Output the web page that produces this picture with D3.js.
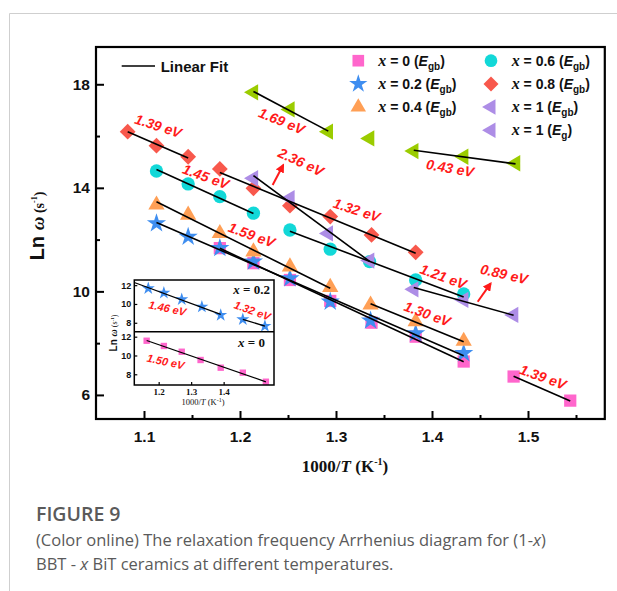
<!DOCTYPE html>
<html>
<head>
<meta charset="utf-8">
<script src="https://cdn.jsdelivr.net/npm/d3@7"></script>
<style>
  html, body { margin: 0; padding: 0; background: #fff; }
  svg { display: block; }
</style>
</head>
<body>
<script>
// ---- Main plot data: 1000/T (K^-1) and ln(omega) per composition ----
const xX0  = [1.179, 1.214, 1.252, 1.294, 1.337, 1.383, 1.433, 1.485, 1.544];
const yX0  = [11.67, 11.09, 10.44, 9.63, 8.79, 8.25, 7.29, 6.71, 5.78];
const xX02 = [1.113, 1.146, 1.179, 1.214, 1.252, 1.294, 1.336, 1.383, 1.433];
const yX02 = [12.63, 12.11, 11.67, 11.15, 10.50, 9.60, 8.87, 8.38, 7.61];
const xX04 = [1.113, 1.146, 1.179, 1.214, 1.252, 1.294, 1.336, 1.383, 1.433];
const yX04 = [13.34, 12.95, 12.24, 11.53, 10.95, 10.16, 9.48, 8.83, 8.08];
const xX06 = [1.113, 1.146, 1.179, 1.214, 1.252, 1.294, 1.335, 1.383, 1.433];
const yX06 = [14.65, 14.15, 13.66, 13.02, 12.37, 11.63, 11.15, 10.44, 9.90];
const xX08 = [1.083, 1.113, 1.146, 1.179, 1.214, 1.252, 1.294, 1.337, 1.383];
const yX08 = [16.17, 15.63, 15.20, 14.73, 13.98, 13.31, 12.89, 12.18, 11.51];
const xX1gb = [1.214, 1.252, 1.292, 1.335, 1.381, 1.433, 1.485];
const yX1gb = [14.37, 13.60, 12.24, 11.19, 10.08, 9.67, 9.09];
const xX1g  = [1.214, 1.252, 1.292, 1.335, 1.381, 1.433, 1.487];
const yX1g  = [17.69, 17.03, 16.17, 15.91, 15.42, 15.20, 14.95];

// Linear fits: point index range and activation energy (eV) when labelled
const fitSeries = ["x08", "x08", "x06", "x06", "x04", "x04", "x02", "x0", "x0", "x1gb", "x1gb", "x1g", "x1g"];
const fitFrom   = [0, 3, 0, 4, 0, 6, 0, 0, 7, 0, 4, 0, 4];
const fitTo     = [2, 8, 3, 8, 5, 8, 8, 6, 8, 3, 6, 2, 6];
const fitEa     = [1.39, 1.32, 1.45, 1.21, 1.59, 1.30, null, null, 1.39, 2.36, 0.89, 1.69, 0.43];

// Energy labels: text, anchor (data coords), rotation
const eaText = ["1.39 eV", "1.69 eV", "2.36 eV", "1.45 eV", "1.59 eV", "1.32 eV", "1.21 eV", "0.89 eV", "1.30 eV", "0.43 eV", "1.39 eV"];
const eaX    = [1.1149, 1.2434, 1.2635, 1.1643, 1.2122, 1.3216, 1.4118, 1.4750, 1.3951, 1.4188, 1.5156];
const eaY    = [16.39, 16.58, 15.00, 14.43, 12.18, 13.14, 10.57, 10.67, 9.13, 14.76, 6.69];
const eaRot  = [18, 22, 25, 20, 20, 18, 20, 13, 20, 10, 20];

// Arrows pointing from a fit line to its label
const arrowX0 = [1.234, 1.4476], arrowY0 = [14.11, 9.60];
const arrowX1 = [1.245, 1.4611], arrowY1 = [14.88, 10.31];

// Axis ticks
const xMajor = [1.1, 1.2, 1.3, 1.4, 1.5];
const xMinor = [1.15, 1.25, 1.35, 1.45, 1.55];
const yMajor = [6, 10, 14, 18];
const yMinor = [8, 12, 16];

// ---- Inset data ----
const inX02 = [1.168, 1.216, 1.271, 1.333, 1.391, 1.459, 1.527];
const inY02 = [11.65, 11.18, 10.48, 9.70, 8.82, 8.36, 7.65];
const inX0  = [1.163, 1.216, 1.271, 1.329, 1.391, 1.459, 1.530];
const inY0  = [11.57, 11.01, 10.40, 9.52, 8.70, 8.17, 7.21];
const inXTicks = [1.2, 1.3, 1.4];
const inYTicks = [8, 10, 12];

const W = 617, H = 591;
const svg = d3.select("body").append("svg").attr("width", W).attr("height", H)
  .style("background", "#fff");

const SANS = "'Liberation Sans', Arial, sans-serif";
const SERIF = "'Liberation Serif', 'Times New Roman', serif";

// Card border
svg.append("path").attr("d", `M9.5,${H} V13.5 H${W}`).attr("fill", "none")
  .attr("stroke", "#cfcfcf").attr("stroke-width", 1);

// Scales
const x = d3.scaleLinear().domain([1.05, 1.58]).range([96, 604.8]);
const y = d3.scaleLinear().domain([5.07, 19.44]).range([419, 47]);

// Series styles
const series = {
  x0:   { xs: xX0,   ys: yX0,   color: "#ff66cc", type: "square" },
  x02:  { xs: xX02,  ys: yX02,  color: "#3f8ef0", type: "star" },
  x04:  { xs: xX04,  ys: yX04,  color: "#ff9f55", type: "tri" },
  x06:  { xs: xX06,  ys: yX06,  color: "#12d8d8", type: "circle" },
  x08:  { xs: xX08,  ys: yX08,  color: "#f8584c", type: "diamond" },
  x1gb: { xs: xX1gb, ys: yX1gb, color: "#ad8de6", type: "left" },
  x1g:  { xs: xX1g,  ys: yX1g,  color: "#9bcc00", type: "left" }
};

function symbolPath(type, scale) {
  const s = scale || 1;
  if (type === "square") return d3.symbol(d3.symbolSquare, 150 * s * s)();
  if (type === "star") return d3.symbol(d3.symbolStar, 115 * s * s)();
  if (type === "tri" || type === "left") return d3.symbol(d3.symbolTriangle, 115 * s * s)();
  if (type === "circle") return d3.symbol(d3.symbolCircle, 140 * s * s)();
  if (type === "diamond") return d3.symbol(d3.symbolSquare, 125 * s * s)();
}
function symbolRot(type) {
  if (type === "diamond") return 45;
  if (type === "left") return -90;
  return 0;
}
function drawMarker(g, type, color, px, py, scale) {
  g.append("path").attr("d", symbolPath(type, scale))
    .attr("transform", `translate(${px},${py}) rotate(${symbolRot(type)})`)
    .attr("fill", color);
}

// Markers
const gMarks = svg.append("g");
Object.keys(series).forEach(k => {
  const s = series[k];
  s.xs.forEach((xv, i) => drawMarker(gMarks, s.type, s.color, x(xv), y(s.ys[i])));
});

// Fit lines
function lsFit(xs, ys) {
  const n = xs.length, mx = d3.mean(xs), my = d3.mean(ys);
  let sxy = 0, sxx = 0;
  for (let i = 0; i < n; i++) { sxy += (xs[i] - mx) * (ys[i] - my); sxx += (xs[i] - mx) ** 2; }
  const b = sxy / sxx;
  return { b, a: my - b * mx };
}
const kB = 0.08617; // eV per (1000 K^-1)
const gFit = svg.append("g");
fitSeries.forEach((key, j) => {
  const s = series[key];
  const xs = s.xs.slice(fitFrom[j], fitTo[j] + 1);
  const ys = s.ys.slice(fitFrom[j], fitTo[j] + 1);
  let f;
  if (fitEa[j] != null) {
    const b = -fitEa[j] / kB;
    f = { b, a: d3.mean(ys) - b * d3.mean(xs) };
  } else f = lsFit(xs, ys);
  const x0 = xs[0], x1 = xs[xs.length - 1];
  gFit.append("line")
    .attr("x1", x(x0)).attr("y1", y(f.a + f.b * x0))
    .attr("x2", x(x1)).attr("y2", y(f.a + f.b * x1))
    .attr("stroke", "#000").attr("stroke-width", 1.6);
});

// Energy labels
const gLab = svg.append("g");
eaText.forEach((t, i) => {
  gLab.append("text")
    .attr("transform", `translate(${x(eaX[i])},${y(eaY[i])}) rotate(${eaRot[i]})`)
    .attr("text-anchor", "middle").attr("dy", "0.35em")
    .attr("font-family", SANS).attr("font-weight", "bold").attr("font-style", "italic")
    .attr("font-size", 14).attr("fill", "#ff1a1a").text(t);
});

// Arrows
svg.append("defs").append("marker").attr("id", "ah")
  .attr("viewBox", "0 0 10 10").attr("refX", 8).attr("refY", 5)
  .attr("markerWidth", 4.5).attr("markerHeight", 4.5).attr("orient", "auto")
  .append("path").attr("d", "M0,0 L10,5 L0,10 z").attr("fill", "#ff1a1a");
arrowX0.forEach((_, i) => {
  svg.append("line")
    .attr("x1", x(arrowX0[i])).attr("y1", y(arrowY0[i]))
    .attr("x2", x(arrowX1[i])).attr("y2", y(arrowY1[i]))
    .attr("stroke", "#ff1a1a").attr("stroke-width", 2).attr("marker-end", "url(#ah)");
});

// Axes with inward ticks
const gx = svg.append("g").attr("transform", "translate(0,419)")
  .call(d3.axisBottom(x).tickValues(xMajor).tickSizeInner(-8).tickSizeOuter(0).tickPadding(11.5).tickFormat(d3.format(".1f")));
svg.append("g").attr("transform", "translate(0,419)")
  .call(d3.axisBottom(x).tickValues(xMinor).tickSizeInner(-4).tickSizeOuter(0).tickFormat(""));
const gy = svg.append("g").attr("transform", "translate(96,0)")
  .call(d3.axisLeft(y).tickValues(yMajor).tickSizeInner(-8).tickSizeOuter(0).tickPadding(6));
svg.append("g").attr("transform", "translate(96,0)")
  .call(d3.axisLeft(y).tickValues(yMinor).tickSizeInner(-4).tickSizeOuter(0).tickFormat(""));
svg.selectAll(".domain").remove();
svg.selectAll(".tick line").attr("stroke", "#000").attr("stroke-width", 2);
[gx, gy].forEach(g => g.selectAll(".tick text")
  .attr("font-family", SANS).attr("font-weight", "bold").attr("font-size", 15.5).attr("fill", "#111"));

// Frame
svg.append("rect").attr("x", 96).attr("y", 47).attr("width", 604.8 - 96).attr("height", 372)
  .attr("fill", "none").attr("stroke", "#000").attr("stroke-width", 2.2);

// Axis titles
const xt = svg.append("text").attr("x", 345).attr("y", 472).attr("text-anchor", "middle")
  .attr("font-family", SERIF).attr("font-weight", "bold").attr("font-size", 17).attr("fill", "#111");
xt.append("tspan").text("1000/");
xt.append("tspan").attr("font-style", "italic").text("T");
xt.append("tspan").text(" (K");
xt.append("tspan").attr("dy", -7).attr("font-size", 10).text("-1");
xt.append("tspan").attr("dy", 7).text(")");

const yt = svg.append("text").attr("transform", "translate(44,226) rotate(-90)")
  .attr("text-anchor", "middle").attr("font-family", SANS).attr("font-weight", "bold")
  .attr("font-size", 20).attr("fill", "#111");
yt.append("tspan").text("Ln ");
yt.append("tspan").attr("font-family", SERIF).attr("font-style", "italic").attr("font-size", 19).text("ω");
yt.append("tspan").attr("font-family", SERIF).attr("font-size", 14).text(" (s");
yt.append("tspan").attr("font-family", SERIF).attr("font-size", 8).attr("dy", -7).text("-1");
yt.append("tspan").attr("font-family", SERIF).attr("font-size", 14).attr("dy", 7).text(")");

// Legend: linear fit
svg.append("line").attr("x1", 121.7).attr("x2", 155).attr("y1", 66).attr("y2", 66)
  .attr("stroke", "#000").attr("stroke-width", 1.6);
svg.append("text").attr("x", 160.7).attr("y", 71.5).attr("font-family", SANS)
  .attr("font-weight", "bold").attr("font-size", 15).attr("fill", "#111").text("Linear Fit");

// Legend: compositions
const legVal  = ["0", "0.2", "0.4", "0.6", "0.8", "1", "1"];
const legSub  = ["gb", "gb", "gb", "gb", "gb", "gb", "g"];
const legType = ["square", "star", "tri", "circle", "diamond", "left", "left"];
const legColor = ["#ff66cc", "#3f8ef0", "#ff9f55", "#12d8d8", "#f8584c", "#ad8de6", "#ad8de6"];
const legCol = [0, 0, 0, 1, 1, 1, 1];
const legRow = [0, 1, 2, 0, 1, 2, 3];
legVal.forEach((v, i) => {
  const mx = legCol[i] ? 491 : 358.3;
  const tx = legCol[i] ? 511.7 : 378.3;
  const cy = 60.7 + legRow[i] * 23.2;
  drawMarker(svg, legType[i], legColor[i], mx, cy, 0.95);
  const t = svg.append("text").attr("x", tx).attr("y", cy + 5).attr("font-family", SANS)
    .attr("font-weight", "bold").attr("font-size", 14).attr("fill", "#111");
  t.append("tspan").attr("font-family", SERIF).attr("font-style", "italic").attr("font-size", 16).text("x");
  t.append("tspan").text(` = ${v} (`);
  t.append("tspan").attr("font-style", "italic").text("E");
  t.append("tspan").attr("font-size", 10).attr("dy", 4).text(legSub[i]);
  t.append("tspan").attr("dy", -4).text(")");
});

// ---- Inset ----
const ix = d3.scaleLinear().domain([1.125, 1.555]).range([134.3, 274]);
const iyTop = d3.scaleLinear().domain([7.05, 12.55]).range([331.7, 280]);
const iyBot = d3.scaleLinear().domain([6.86, 12.53]).range([385, 331.7]);
const gIn = svg.append("g");
gIn.append("rect").attr("x", 134.3).attr("y", 280).attr("width", 274 - 134.3).attr("height", 105)
  .attr("fill", "#fff").attr("stroke", "none");

inX02.forEach((v, i) => drawMarker(gIn, "star", "#3f8ef0", ix(v), iyTop(inY02[i]), 0.68));
inX0.forEach((v, i) => drawMarker(gIn, "square", "#ff66cc", ix(v), iyBot(inY0[i]), 0.52));

function inLine(xs, ys, yScale, xStart, xEnd) {
  const f = lsFit(xs, ys);
  gIn.append("line")
    .attr("x1", ix(xStart)).attr("y1", yScale(f.a + f.b * xStart))
    .attr("x2", ix(xEnd)).attr("y2", yScale(f.a + f.b * xEnd))
    .attr("stroke", "#000").attr("stroke-width", 1.3);
}
inLine(inX02.slice(0, 5), inY02.slice(0, 5), iyTop, 1.125, inX02[4]);
inLine(inX02.slice(5), inY02.slice(5), iyTop, inX02[5], inX02[6]);
inLine(inX0, inY0, iyBot, inX0[0], inX0[6]);

// Inset axes
const inTick = (sel) => sel.selectAll(".tick line").attr("stroke", "#000").attr("stroke-width", 1.2);
const iax = gIn.append("g").attr("transform", "translate(0,385)")
  .call(d3.axisBottom(ix).tickValues(inXTicks).tickSizeInner(-3).tickSizeOuter(0).tickPadding(4).tickFormat(d3.format(".1f")));
const iayT = gIn.append("g").attr("transform", "translate(134.3,0)")
  .call(d3.axisLeft(iyTop).tickValues(inYTicks).tickSizeInner(-3).tickSizeOuter(0).tickPadding(3).tickFormat(d3.format("d")));
const iayB = gIn.append("g").attr("transform", "translate(134.3,0)")
  .call(d3.axisLeft(iyBot).tickValues(inYTicks).tickSizeInner(-3).tickSizeOuter(0).tickPadding(3).tickFormat(d3.format("d")));
[iax, iayT, iayB].forEach(g => { g.select(".domain").remove(); inTick(g); });
iax.selectAll(".tick text").attr("font-family", SERIF).attr("font-weight", "bold").attr("font-size", 9).attr("fill", "#111");
[iayT, iayB].forEach(g => g.selectAll(".tick text").attr("font-family", SANS).attr("font-weight", "bold").attr("font-size", 9).attr("fill", "#111"));

gIn.append("rect").attr("x", 134.3).attr("y", 280).attr("width", 274 - 134.3).attr("height", 105)
  .attr("fill", "none").attr("stroke", "#000").attr("stroke-width", 1.5);
gIn.append("line").attr("x1", 134.3).attr("x2", 274).attr("y1", 331.7).attr("y2", 331.7)
  .attr("stroke", "#000").attr("stroke-width", 1.5);

// Inset titles
const ixt = gIn.append("text").attr("x", 203).attr("y", 405).attr("text-anchor", "middle")
  .attr("font-family", SERIF).attr("font-size", 8.5).attr("fill", "#111");
ixt.append("tspan").text("1000/");
ixt.append("tspan").attr("font-style", "italic").text("T");
ixt.append("tspan").text(" (K");
ixt.append("tspan").attr("dy", -3).attr("font-size", 6).text("-1");
ixt.append("tspan").attr("dy", 3).text(")");

const iyt = gIn.append("text").attr("transform", "translate(117,333) rotate(-90)")
  .attr("text-anchor", "middle").attr("font-family", SANS).attr("font-weight", "bold")
  .attr("font-size", 10).attr("fill", "#111");
iyt.append("tspan").text("Ln ");
iyt.append("tspan").attr("font-family", SERIF).attr("font-style", "italic").text("ω");
iyt.append("tspan").attr("font-family", SERIF).attr("font-weight", "normal").attr("font-size", 8).text(" (s");
iyt.append("tspan").attr("font-family", SERIF).attr("font-size", 5).attr("dy", -3).text("-1");
iyt.append("tspan").attr("font-family", SERIF).attr("font-weight", "normal").attr("font-size", 8).attr("dy", 3).text(")");

// Inset panel names
const inName = ["0.2", "0"], inNameX = [270, 265], inNameY = [294, 347];
inName.forEach((v, i) => {
  const t = gIn.append("text").attr("x", inNameX[i]).attr("y", inNameY[i]).attr("text-anchor", "end")
    .attr("font-family", SERIF).attr("font-weight", "bold").attr("font-size", 13).attr("fill", "#111");
  t.append("tspan").attr("font-style", "italic").text("x");
  t.append("tspan").text(` = ${v}`);
});

// Inset energy labels
const inEaText = ["1.46 eV", "1.32 eV", "1.50 eV"];
const inEaX = [1.2266, 1.4883, 1.2217];
const inEaY = [9.54, 9.28, 9.34];
const inEaPanel = ["top", "top", "bot"];
const inEaRot = [12, 20, 12];
inEaText.forEach((t, i) => {
  const ys = inEaPanel[i] === "top" ? iyTop : iyBot;
  gIn.append("text")
    .attr("transform", `translate(${ix(inEaX[i])},${ys(inEaY[i])}) rotate(${inEaRot[i]})`)
    .attr("text-anchor", "middle").attr("dy", "0.35em")
    .attr("font-family", SANS).attr("font-weight", "bold").attr("font-style", "italic")
    .attr("font-size", 11).attr("fill", "#ff1a1a").text(t);
});

// ---- Caption ----
const CAP = "'Open Sans', 'Noto Sans', sans-serif";
svg.append("text").attr("x", 36).attr("y", 521).attr("font-family", CAP).attr("font-weight", 600)
  .attr("font-size", 19.5).attr("fill", "#5a5a5a").text("FIGURE 9");
const c1 = svg.append("text").attr("x", 36).attr("y", 546).attr("font-family", CAP)
  .attr("font-size", 16.5).attr("fill", "#5a5a5a");
c1.append("tspan").text("(Color online) The relaxation frequency Arrhenius diagram for (1-");
c1.append("tspan").attr("font-style", "italic").text("x");
c1.append("tspan").text(")");
const c2 = svg.append("text").attr("x", 36).attr("y", 570).attr("font-family", CAP)
  .attr("font-size", 16.5).attr("fill", "#5a5a5a");
c2.append("tspan").text("BBT - ");
c2.append("tspan").attr("font-style", "italic").text("x");
c2.append("tspan").text(" BiT ceramics at different temperatures.");
</script>
</body>
</html>
